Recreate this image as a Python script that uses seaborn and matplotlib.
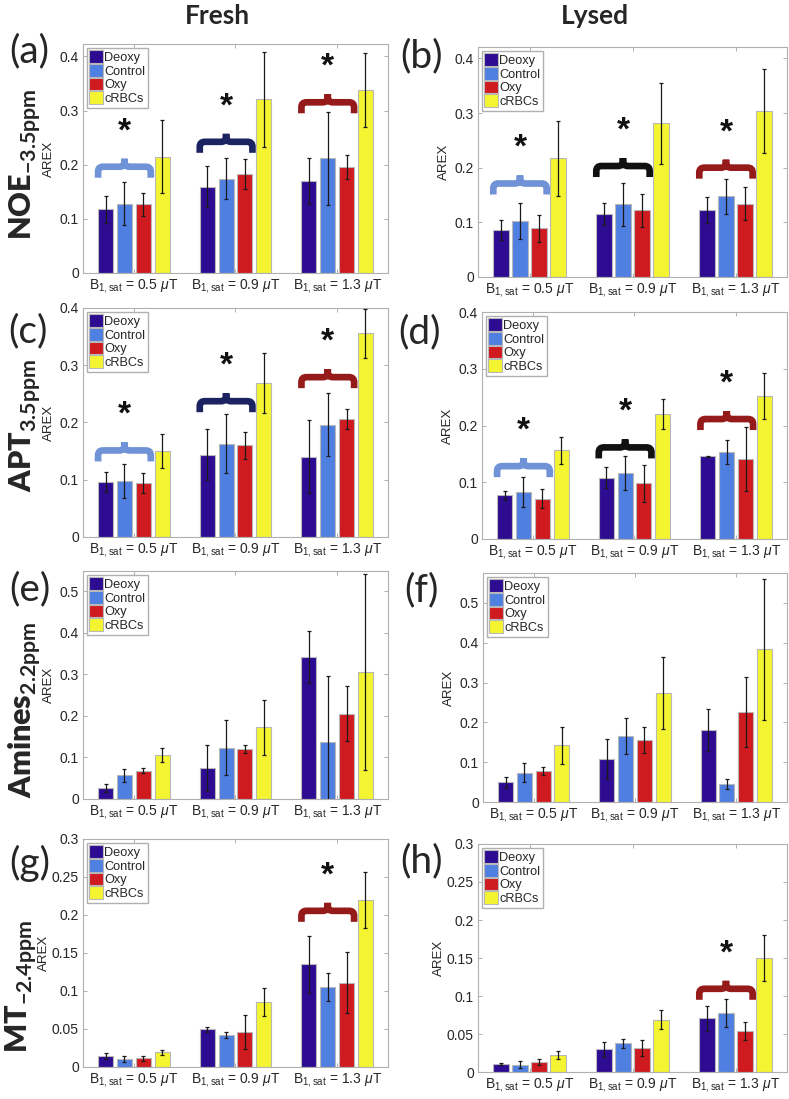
import numpy as np
import pandas as pd
import matplotlib
matplotlib.use('Agg')
import matplotlib.pyplot as plt
import seaborn as sns
from matplotlib.path import Path
from matplotlib.patches import PathPatch
from matplotlib.ticker import FuncFormatter, MultipleLocator

groups = ['Deoxy', 'Control', 'Oxy', 'cRBCs']
b1_labels = [r'B$_{\mathrm{1,sat}}$ = 0.5 $\mu$T',
             r'B$_{\mathrm{1,sat}}$ = 0.9 $\mu$T',
             r'B$_{\mathrm{1,sat}}$ = 1.3 $\mu$T']
colors = ['#2e0c91', '#4f7fe0', '#cf1a1f', '#f4f431']

# rows: Deoxy, Control, Oxy, cRBCs ; columns: B1 = 0.5, 0.9, 1.3 uT
noe_fresh = [[0.118, 0.159, 0.170], [0.128, 0.174, 0.212], [0.127, 0.183, 0.196], [0.215, 0.321, 0.338]]
noe_fresh_err = [[0.025, 0.038, 0.043], [0.040, 0.038, 0.086], [0.021, 0.027, 0.022], [0.068, 0.088, 0.068]]
noe_lysed = [[0.086, 0.115, 0.123], [0.103, 0.133, 0.148], [0.089, 0.122, 0.134], [0.217, 0.281, 0.304]]
noe_lysed_err = [[0.018, 0.020, 0.024], [0.033, 0.039, 0.032], [0.025, 0.030, 0.030], [0.068, 0.075, 0.077]]

apt_fresh = [[0.096, 0.144, 0.140], [0.098, 0.163, 0.196], [0.094, 0.160, 0.206], [0.150, 0.269, 0.356]]
apt_fresh_err = [[0.017, 0.044, 0.064], [0.030, 0.052, 0.055], [0.017, 0.024, 0.018], [0.030, 0.052, 0.043]]
apt_lysed = [[0.077, 0.108, 0.146], [0.083, 0.117, 0.153], [0.071, 0.098, 0.141], [0.156, 0.220, 0.252]]
apt_lysed_err = [[0.008, 0.019, 0.001], [0.026, 0.030, 0.021], [0.017, 0.032, 0.057], [0.023, 0.026, 0.041]]

amines_fresh = [[0.026, 0.074, 0.342], [0.057, 0.124, 0.138], [0.068, 0.120, 0.205], [0.105, 0.173, 0.306]]
amines_fresh_err = [[0.009, 0.055, 0.063], [0.016, 0.067, 0.158], [0.006, 0.010, 0.066], [0.017, 0.066, 0.236]]
amines_lysed = [[0.049, 0.108, 0.180], [0.074, 0.166, 0.045], [0.078, 0.156, 0.226], [0.142, 0.274, 0.384]]
amines_lysed_err = [[0.013, 0.049, 0.053], [0.024, 0.045, 0.012], [0.010, 0.032, 0.087], [0.046, 0.090, 0.177]]

mt_fresh = [[0.0145, 0.0495, 0.135], [0.0105, 0.042, 0.1055], [0.0114, 0.046, 0.111], [0.0193, 0.0854, 0.2194]]
mt_fresh_err = [[0.004, 0.003, 0.037], [0.0042, 0.0044, 0.018], [0.0033, 0.022, 0.040], [0.0035, 0.018, 0.037]]
mt_lysed = [[0.0105, 0.0298, 0.0709], [0.0096, 0.0377, 0.0775], [0.0127, 0.0311, 0.0543], [0.0223, 0.0688, 0.1502]]
mt_lysed_err = [[0.001, 0.0103, 0.0166], [0.0045, 0.0055, 0.018], [0.004, 0.0105, 0.0118], [0.005, 0.0123, 0.0307]]

# significance braces: base level per B1 group (None = no brace)
noe_fresh_sig = [0.176, 0.222, 0.295]
noe_lysed_sig = [0.151, 0.183, 0.180]
apt_fresh_sig = [0.132, 0.218, 0.260]
apt_lysed_sig = [0.109, 0.142, 0.192]
mt_fresh_sig = [None, None, 0.191]
mt_lysed_sig = [None, None, 0.095]

brace_fresh = ['#7092d6', '#1b2361', '#951a1a']
brace_lysed = ['#7092d6', '#111111', '#951a1a']

row_labels = [r'NOE$_{\mathbf{-3.5ppm}}$', r'APT$_{\mathbf{3.5ppm}}$',
              r'Amines$_{\mathbf{2.2ppm}}$', r'MT$_{\mathbf{-2.4ppm}}$']

W, H = 789, 1099
sns.set_style('white')
plt.rcParams['font.family'] = ['Liberation Sans', 'DejaVu Sans']
plt.rcParams['mathtext.fontset'] = 'custom'
plt.rcParams['mathtext.rm'] = 'Liberation Sans'
plt.rcParams['mathtext.it'] = 'Liberation Sans:italic'
plt.rcParams['mathtext.bf'] = 'Lato:bold'

fig = plt.figure(figsize=(W / 100, H / 100), dpi=100)

panels = [
    ('(a)', noe_fresh, noe_fresh_err, noe_fresh_sig, brace_fresh, 0.423, 0.1, (83, 44, 388, 273)),
    ('(b)', noe_lysed, noe_lysed_err, noe_lysed_sig, brace_lysed, 0.421, 0.1, (478, 47, 787, 277)),
    ('(c)', apt_fresh, apt_fresh_err, apt_fresh_sig, brace_fresh, 0.4, 0.1, (83, 308, 388, 537)),
    ('(d)', apt_lysed, apt_lysed_err, apt_lysed_sig, brace_lysed, 0.4, 0.1, (482, 312, 787, 539)),
    ('(e)', amines_fresh, amines_fresh_err, None, None, 0.549, 0.1, (83, 571, 388, 799)),
    ('(f)', amines_lysed, amines_lysed_err, None, None, 0.575, 0.1, (483, 573, 787, 802)),
    ('(g)', mt_fresh, mt_fresh_err, mt_fresh_sig, brace_fresh, 0.3, 0.05, (83, 839, 388, 1067)),
    ('(h)', mt_lysed, mt_lysed_err, mt_lysed_sig, brace_lysed, 0.3, 0.05, (478, 844, 787, 1072)),
]


def draw_brace(ax, x0, x1, y0, color, ppx, ppy):
    h1, h2 = 11 * ppy, 19 * ppy
    rx, ry = 5 * ppx, 5 * ppy
    xm = (x0 + x1) / 2
    verts, codes = [], []
    for s, xe in ((1, x0), (-1, x1)):
        verts += [(xe, y0), (xe, y0 + h1 - ry), (xe, y0 + h1), (xe + s * rx, y0 + h1),
                  (xm - s * rx, y0 + h1), (xm, y0 + h1), (xm, y0 + h1 + ry), (xm, y0 + h2)]
        codes += [Path.MOVETO, Path.LINETO, Path.CURVE3, Path.CURVE3,
                  Path.LINETO, Path.CURVE3, Path.CURVE3, Path.LINETO]
    ax.add_patch(PathPatch(Path(verts, codes), fill=False, edgecolor=color,
                           linewidth=4.8, capstyle='butt', zorder=5))
    return xm, y0 + h2


fmt = FuncFormatter(lambda v, p: '0' if abs(v) < 1e-9 else f'{v:g}')

for letter, mean, err, sig, bcols, ytop, ystep, (l, t, r, b) in panels:
    ax = fig.add_axes([l / W, 1 - b / H, (r - l) / W, (b - t) / H])
    df = pd.DataFrame([(b1_labels[j], groups[i], mean[i][j])
                       for i in range(4) for j in range(3)],
                      columns=['B1', 'Group', 'AREX'])
    sns.barplot(data=df, x='B1', y='AREX', hue='Group', order=b1_labels,
                hue_order=groups, palette=colors, saturation=1, errorbar=None,
                width=0.74, gap=0.2, edgecolor='#b8b8b8', linewidth=0.8, ax=ax)
    bar_sets = [sorted(c.patches, key=lambda p: p.get_x()) for c in list(ax.containers)]
    for i, bars in enumerate(bar_sets):
        xs = [p.get_x() + p.get_width() / 2 for p in bars]
        ax.errorbar(xs, mean[i], yerr=err[i], fmt='none', ecolor='#1a1a1a',
                    elinewidth=0.9, capsize=1.5, capthick=0.9, zorder=4)
    ax.set_xlim(-0.5, 2.5)
    ax.set_ylim(0, ytop)
    ax.yaxis.set_major_locator(MultipleLocator(ystep))
    ax.yaxis.set_major_formatter(fmt)
    ax.set_xticks(range(3))
    ax.set_xticklabels(b1_labels)
    ax.set_xlabel('')
    ax.set_ylabel('AREX', fontsize=9.5, labelpad=3 if ystep > 0.06 else 1.5, color='#262626')
    for sp in ax.spines.values():
        sp.set_visible(True)
        sp.set_color('#b0b0b0')
        sp.set_linewidth(0.8)
    ax.tick_params(direction='in', length=3, width=0.7, color='#b0b0b0',
                   labelcolor='#262626', labelsize=10, top=True, right=True,
                   bottom=True, left=True, pad=3)
    h, lab = ax.get_legend_handles_labels()
    ax.legend(h, lab, loc='upper left', fontsize=9.2, frameon=True, fancybox=False,
              framealpha=1, edgecolor='#b0b0b0', handlelength=1.05, handleheight=1.15,
              handletextpad=0.1, labelspacing=0.0, borderpad=0.2,
              borderaxespad=0.3)
    if sig is not None:
        ppx = 3.0 / (r - l)
        ppy = ytop / (b - t)
        for j, y0 in enumerate(sig):
            if y0 is None:
                continue
            x0 = bar_sets[0][j].get_x()
            x1 = bar_sets[2][j].get_x() + bar_sets[2][j].get_width()
            xm, yt = draw_brace(ax, x0, x1, y0, bcols[j], ppx, ppy)
            ax.annotate('*', xy=(xm, yt), xytext=(0, 27), textcoords='offset pixels',
                        ha='center', va='center', fontsize=24, fontweight='bold',
                        color='#111111', zorder=6)

# panel letters
letter_pos = [(29, 51), (421, 56), (28, 331), (420, 332), (30, 589), (421, 590), (30, 863), (422, 861)]
for (letter, *_), (x, y) in zip(panels, letter_pos):
    fig.text(x / W, 1 - y / H, letter, family='Lato', fontsize=28, ha='center', va='center')

# column titles
fig.text(217 / W, 1 - 16 / H, 'Fresh', family='Lato', fontweight='bold', fontsize=19,
         ha='center', va='center')
fig.text(595 / W, 1 - 16 / H, 'Lysed', family='Lato', fontweight='bold', fontsize=19,
         ha='center', va='center')

# row labels
row_pos = [(25, 240), (25, 492), (25, 798), (21, 1053)]
for lab, (x, y) in zip(row_labels, row_pos):
    fig.text(x / W, 1 - y / H, lab, family='Lato', fontweight='heavy', fontsize=22,
             rotation=90, ha='center', va='bottom')

fig.savefig('out.png', dpi=100)
